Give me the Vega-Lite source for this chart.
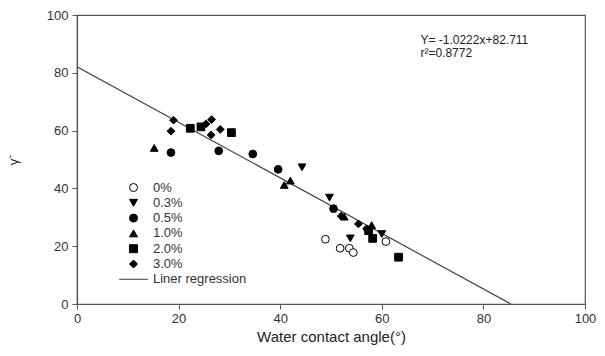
{
  "$schema": "https://vega.github.io/schema/vega-lite/v6.json",
  "width": 508,
  "height": 289,
  "autosize": "none",
  "padding": {"left": 77, "top": 15, "right": 20, "bottom": 52},
  "background": "white",
  "config": {
    "font": "Liberation Sans",
    "view": {"stroke": "#555", "strokeWidth": 1.2},
    "axis": {
      "grid": false,
      "domainColor": "#555",
      "domainWidth": 1.2,
      "tickColor": "#555",
      "tickSize": 5,
      "labelFontSize": 13,
      "labelColor": "#333",
      "titleFontSize": 15,
      "titleFontWeight": "normal",
      "titleColor": "#222"
    },
    "legend": {
      "orient": "none",
      "legendX": 50,
      "legendY": 166,
      "padding": 0,
      "title": null,
      "labelFontSize": 13,
      "labelColor": "#333",
      "labelOffset": 13,
      "rowPadding": 1.3,
      "symbolSize": 64,
      "symbolStrokeWidth": 1
    }
  },
  "datasets": {
    "points": [
      {"series": "0%", "angle": 48.9, "gamma": 22.4},
      {"series": "0%", "angle": 51.8, "gamma": 19.3},
      {"series": "0%", "angle": 53.6, "gamma": 19.3},
      {"series": "0%", "angle": 54.4, "gamma": 17.8},
      {"series": "0%", "angle": 60.8, "gamma": 21.6},
      {"series": "0.3%", "angle": 44.3, "gamma": 47.3},
      {"series": "0.3%", "angle": 49.7, "gamma": 36.8},
      {"series": "0.3%", "angle": 53.8, "gamma": 22.7},
      {"series": "0.3%", "angle": 60.0, "gamma": 24.2},
      {"series": "0.5%", "angle": 18.5, "gamma": 52.4},
      {"series": "0.5%", "angle": 27.9, "gamma": 53.0},
      {"series": "0.5%", "angle": 34.6, "gamma": 51.9},
      {"series": "0.5%", "angle": 39.6, "gamma": 46.6},
      {"series": "0.5%", "angle": 50.5, "gamma": 33.0},
      {"series": "1.0%", "angle": 15.2, "gamma": 54.0},
      {"series": "1.0%", "angle": 40.8, "gamma": 41.2},
      {"series": "1.0%", "angle": 42.0, "gamma": 42.7},
      {"series": "1.0%", "angle": 52.6, "gamma": 30.2},
      {"series": "1.0%", "angle": 58.0, "gamma": 27.3},
      {"series": "2.0%", "angle": 22.3, "gamma": 60.8},
      {"series": "2.0%", "angle": 24.4, "gamma": 61.3},
      {"series": "2.0%", "angle": 30.4, "gamma": 59.3},
      {"series": "2.0%", "angle": 57.4, "gamma": 25.4},
      {"series": "2.0%", "angle": 58.2, "gamma": 22.7},
      {"series": "2.0%", "angle": 63.3, "gamma": 16.2},
      {"series": "3.0%", "angle": 18.5, "gamma": 59.8},
      {"series": "3.0%", "angle": 19.0, "gamma": 63.6},
      {"series": "3.0%", "angle": 25.4, "gamma": 62.3},
      {"series": "3.0%", "angle": 26.5, "gamma": 63.8},
      {"series": "3.0%", "angle": 26.4, "gamma": 58.5},
      {"series": "3.0%", "angle": 28.2, "gamma": 60.4},
      {"series": "3.0%", "angle": 52.0, "gamma": 30.4},
      {"series": "3.0%", "angle": 55.4, "gamma": 27.7},
      {"series": "3.0%", "angle": 57.0, "gamma": 26.0}
    ],
    "fit": [
      {"angle": 0, "gamma": 82.1},
      {"angle": 85.4, "gamma": 0}
    ]
  },
  "layer": [
    {
      "data": {"name": "fit"},
      "mark": {"type": "line", "color": "#444", "strokeWidth": 1.2, "clip": true},
      "encoding": {
        "x": {
          "field": "angle",
          "type": "quantitative",
          "scale": {"domain": [0, 100], "nice": false, "zero": false},
          "axis": {"values": [0, 20, 40, 60, 80, 100], "labelPadding": 3, "titlePadding": 4, "title": "Water contact angle(°)", "labelFlush": false}
        },
        "y": {
          "field": "gamma",
          "type": "quantitative",
          "scale": {"domain": [0, 100], "nice": false, "zero": false},
          "axis": {"values": [0, 20, 40, 60, 80, 100], "labelPadding": 4, "titlePadding": 26, "titleAngle": 270, "titleFontSize": 13, "title": "γ⁻", "labelFlush": false}
        }
      }
    },
    {
      "data": {"name": "points"},
      "mark": {"type": "point", "size": 60, "strokeWidth": 1, "opacity": 1},
      "encoding": {
        "x": {"field": "angle", "type": "quantitative"},
        "y": {"field": "gamma", "type": "quantitative"},
        "shape": {
          "field": "series",
          "type": "nominal",
          "scale": {
            "domain": ["0%", "0.3%", "0.5%", "1.0%", "2.0%", "3.0%", "Liner regression"],
            "range": ["circle", "triangle-down", "circle", "triangle-up", "square", "diamond", "M-3.6,0L3.6,0"]
          },
          "legend": {"title": null}
        },
        "fill": {
          "field": "series",
          "type": "nominal",
          "scale": {
            "domain": ["0%", "0.3%", "0.5%", "1.0%", "2.0%", "3.0%", "Liner regression"],
            "range": ["white", "black", "black", "black", "black", "black", "transparent"]
          },
          "legend": {"title": null}
        },
        "stroke": {
          "field": "series",
          "type": "nominal",
          "scale": {
            "domain": ["0%", "0.3%", "0.5%", "1.0%", "2.0%", "3.0%", "Liner regression"],
            "range": ["black", "black", "black", "black", "black", "black", "#444"]
          },
          "legend": {"title": null}
        }
      }
    },
    {
      "data": {"values": [{}]},
      "mark": {"type": "text", "align": "left", "baseline": "middle", "fontSize": 12, "color": "#222"},
      "encoding": {
        "x": {"datum": 67.6},
        "y": {"datum": 91.3},
        "text": {"value": "Y= -1.0222x+82.711"}
      }
    },
    {
      "data": {"values": [{}]},
      "mark": {"type": "text", "align": "left", "baseline": "middle", "fontSize": 12, "color": "#222"},
      "encoding": {
        "x": {"datum": 67.6},
        "y": {"datum": 87.0},
        "text": {"value": "r²=0.8772"}
      }
    }
  ]
}
